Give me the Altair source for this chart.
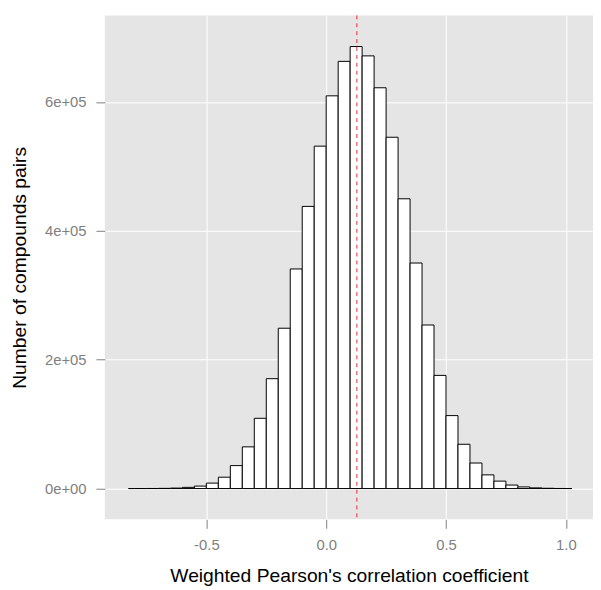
import altair as alt
import pandas as pd

# Histogram bin edges (correlation coefficient) and counts per bin
bin_edges = [-0.825, -0.8, -0.75, -0.7, -0.65, -0.6, -0.55, -0.5, -0.45, -0.4,
             -0.35, -0.3, -0.25, -0.2, -0.15, -0.1, -0.05, 0.0, 0.05, 0.1,
             0.15, 0.2, 0.25, 0.3, 0.35, 0.4, 0.45, 0.5, 0.55, 0.6,
             0.65, 0.7, 0.75, 0.8, 0.85, 0.9, 0.95, 1.0, 1.025]
counts = [0, 20, 80, 250, 700, 1800, 3800, 8400, 17600, 35600,
          64700, 109000, 170500, 248800, 340800, 437900, 531400, 609500, 663000, 686000,
          671500, 622000, 545200, 449700, 350000, 253800, 175600, 113200, 68700, 39600,
          21200, 11500, 5400, 2500, 1000, 400, 100, 10]
mean_line = [0.128]

x_ticks = [-0.5, 0.0, 0.5, 1.0]
x_tick_labels = ["-0.5", "0.0", "0.5", "1.0"]
y_ticks = [0, 200000, 400000, 600000]
y_tick_labels = ["0e+00", "2e+05", "4e+05", "6e+05"]

x_title = "Weighted Pearson's correlation coefficient"
y_title = "Number of compounds pairs"


def label_expr(vals, labels):
    expr = "''"
    for v, l in reversed(list(zip(vals, labels))):
        expr = f"abs(datum.value - ({v})) < 1e-6 ? '{l}' : ({expr})"
    return expr


df = pd.DataFrame({"x0": bin_edges[:-1], "x1": bin_edges[1:], "count": counts,
                   "base": [0] * len(counts)})
mdf = pd.DataFrame({"m": mean_line})

x_scale = alt.Scale(domain=[-0.9237, 1.1134], nice=False, zero=False)
y_scale = alt.Scale(domain=[-47850, 734350], nice=False, zero=False)

bars = alt.Chart(df).mark_rect(fill="white", stroke="black", strokeWidth=1).encode(
    x=alt.X("x0:Q", scale=x_scale,
            axis=alt.Axis(values=x_ticks, labelExpr=label_expr(x_ticks, x_tick_labels),
                          title=x_title)),
    x2="x1:Q",
    y=alt.Y("count:Q", scale=y_scale,
            axis=alt.Axis(values=y_ticks, labelExpr=label_expr(y_ticks, y_tick_labels),
                          title=y_title)),
    y2="base:Q",
)

rule = alt.Chart(mdf).mark_rule(color="#e8282f", strokeDash=[4, 4], strokeWidth=1).encode(
    x=alt.X("m:Q", scale=x_scale)
)

chart = (
    alt.layer(bars, rule)
    .properties(width=494, height=510, autosize="none",
                padding={"left": 98, "top": 4, "right": 0, "bottom": 68})
    .configure_view(fill="#E5E5E5", strokeWidth=0)
    .configure_axis(domain=False, grid=True, gridColor="white", gridWidth=1,
                    tickColor="#7f7f7f", tickSize=9, tickWidth=1,
                    labelColor="#7f7f7f", labelFont="Liberation Sans", labelFontSize=15,
                    labelFlush=False, labelOverlap=False,
                    titleFont="Liberation Sans", titleFontSize=19.5,
                    titleFontWeight="normal", titleColor="black")
    .configure_axisX(labelPadding=9, titlePadding=15)
    .configure_axisY(labelPadding=10, titlePadding=15)
)

chart.save("out.html", embed_options={"renderer": "svg", "actions": False})
